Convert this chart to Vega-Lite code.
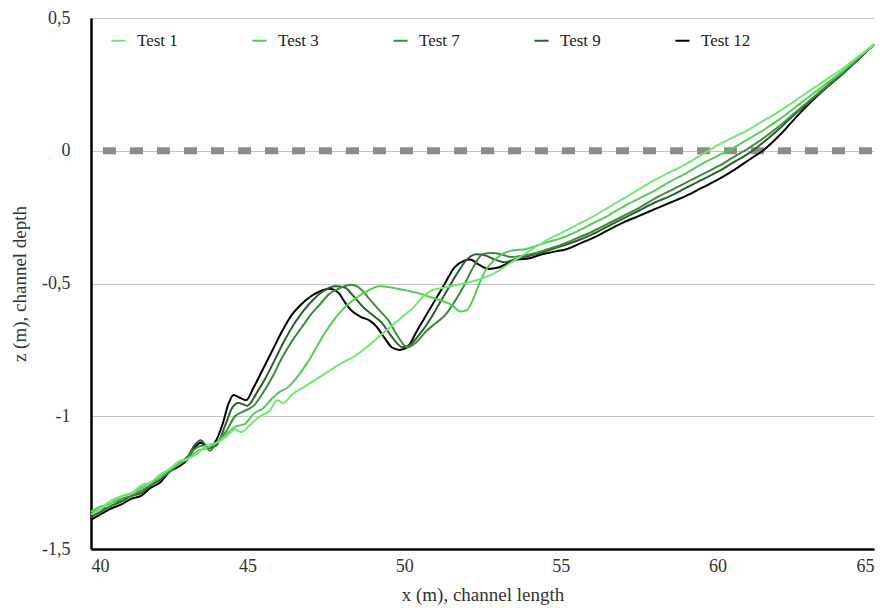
{
  "$schema": "https://vega.github.io/schema/vega-lite/v6.json",
  "autosize": "none",
  "width": 783,
  "height": 531,
  "padding": {"left": 91, "top": 18, "right": 9, "bottom": 59},
  "background": "white",
  "config": {
    "view": {"stroke": null},
    "font": "Liberation Serif",
    "axis": {"labelFont": "Liberation Serif", "titleFont": "Liberation Serif", "labelColor": "#333333", "titleColor": "#333333", "titleFontWeight": "normal", "labelFontSize": 18, "titleFontSize": 19}
  },
  "datasets": {
    "profiles": [
      {"test":"Test 12","x":40.0,"z":-1.39},{"test":"Test 12","x":40.3,"z":-1.37},{"test":"Test 12","x":40.6,"z":-1.35},{"test":"Test 12","x":41.0,"z":-1.33},{"test":"Test 12","x":41.3,"z":-1.31},{"test":"Test 12","x":41.6,"z":-1.30},{"test":"Test 12","x":41.9,"z":-1.27},{"test":"Test 12","x":42.2,"z":-1.25},{"test":"Test 12","x":42.5,"z":-1.21},{"test":"Test 12","x":42.8,"z":-1.19},{"test":"Test 12","x":43.1,"z":-1.16},{"test":"Test 12","x":43.3,"z":-1.12},{"test":"Test 12","x":43.5,"z":-1.10},{"test":"Test 12","x":43.75,"z":-1.12},{"test":"Test 12","x":44.0,"z":-1.09},{"test":"Test 12","x":44.2,"z":-1.03},{"test":"Test 12","x":44.4,"z":-0.95},{"test":"Test 12","x":44.55,"z":-0.92},{"test":"Test 12","x":44.75,"z":-0.93},{"test":"Test 12","x":44.95,"z":-0.94},{"test":"Test 12","x":45.2,"z":-0.89},{"test":"Test 12","x":45.5,"z":-0.82},{"test":"Test 12","x":45.8,"z":-0.75},{"test":"Test 12","x":46.1,"z":-0.68},{"test":"Test 12","x":46.4,"z":-0.62},{"test":"Test 12","x":46.7,"z":-0.58},{"test":"Test 12","x":47.0,"z":-0.55},{"test":"Test 12","x":47.3,"z":-0.53},{"test":"Test 12","x":47.6,"z":-0.52},{"test":"Test 12","x":47.9,"z":-0.535},{"test":"Test 12","x":48.1,"z":-0.57},{"test":"Test 12","x":48.3,"z":-0.60},{"test":"Test 12","x":48.6,"z":-0.625},{"test":"Test 12","x":48.9,"z":-0.64},{"test":"Test 12","x":49.1,"z":-0.66},{"test":"Test 12","x":49.4,"z":-0.71},{"test":"Test 12","x":49.6,"z":-0.74},{"test":"Test 12","x":49.85,"z":-0.75},{"test":"Test 12","x":50.1,"z":-0.74},{"test":"Test 12","x":50.4,"z":-0.68},{"test":"Test 12","x":50.7,"z":-0.62},{"test":"Test 12","x":51.0,"z":-0.56},{"test":"Test 12","x":51.3,"z":-0.50},{"test":"Test 12","x":51.6,"z":-0.44},{"test":"Test 12","x":51.9,"z":-0.415},{"test":"Test 12","x":52.1,"z":-0.41},{"test":"Test 12","x":52.4,"z":-0.43},{"test":"Test 12","x":52.7,"z":-0.445},{"test":"Test 12","x":53.0,"z":-0.44},{"test":"Test 12","x":53.3,"z":-0.425},{"test":"Test 12","x":53.6,"z":-0.41},{"test":"Test 12","x":54.0,"z":-0.405},{"test":"Test 12","x":54.4,"z":-0.39},{"test":"Test 12","x":54.8,"z":-0.38},{"test":"Test 12","x":55.2,"z":-0.37},{"test":"Test 12","x":55.6,"z":-0.35},{"test":"Test 12","x":56.0,"z":-0.33},{"test":"Test 12","x":56.5,"z":-0.30},{"test":"Test 12","x":57.0,"z":-0.27},{"test":"Test 12","x":57.5,"z":-0.245},{"test":"Test 12","x":58.0,"z":-0.22},{"test":"Test 12","x":58.5,"z":-0.195},{"test":"Test 12","x":59.0,"z":-0.17},{"test":"Test 12","x":59.5,"z":-0.14},{"test":"Test 12","x":60.0,"z":-0.11},{"test":"Test 12","x":60.5,"z":-0.075},{"test":"Test 12","x":61.0,"z":-0.035},{"test":"Test 12","x":61.5,"z":0.005},{"test":"Test 12","x":62.0,"z":0.06},{"test":"Test 12","x":62.5,"z":0.125},{"test":"Test 12","x":63.0,"z":0.185},{"test":"Test 12","x":63.5,"z":0.24},{"test":"Test 12","x":64.0,"z":0.29},{"test":"Test 12","x":64.5,"z":0.345},{"test":"Test 12","x":65.0,"z":0.40},

      {"test":"Test 9","x":40.0,"z":-1.38},{"test":"Test 9","x":40.3,"z":-1.36},{"test":"Test 9","x":40.6,"z":-1.34},{"test":"Test 9","x":41.0,"z":-1.32},{"test":"Test 9","x":41.3,"z":-1.30},{"test":"Test 9","x":41.6,"z":-1.29},{"test":"Test 9","x":41.9,"z":-1.26},{"test":"Test 9","x":42.2,"z":-1.24},{"test":"Test 9","x":42.5,"z":-1.21},{"test":"Test 9","x":42.8,"z":-1.18},{"test":"Test 9","x":43.1,"z":-1.15},{"test":"Test 9","x":43.3,"z":-1.11},{"test":"Test 9","x":43.5,"z":-1.09},{"test":"Test 9","x":43.75,"z":-1.12},{"test":"Test 9","x":44.0,"z":-1.11},{"test":"Test 9","x":44.3,"z":-1.03},{"test":"Test 9","x":44.5,"z":-0.97},{"test":"Test 9","x":44.7,"z":-0.95},{"test":"Test 9","x":45.0,"z":-0.96},{"test":"Test 9","x":45.3,"z":-0.91},{"test":"Test 9","x":45.6,"z":-0.85},{"test":"Test 9","x":45.9,"z":-0.78},{"test":"Test 9","x":46.2,"z":-0.71},{"test":"Test 9","x":46.5,"z":-0.65},{"test":"Test 9","x":46.8,"z":-0.60},{"test":"Test 9","x":47.1,"z":-0.56},{"test":"Test 9","x":47.4,"z":-0.53},{"test":"Test 9","x":47.8,"z":-0.51},{"test":"Test 9","x":48.1,"z":-0.515},{"test":"Test 9","x":48.4,"z":-0.55},{"test":"Test 9","x":48.7,"z":-0.59},{"test":"Test 9","x":49.0,"z":-0.62},{"test":"Test 9","x":49.3,"z":-0.65},{"test":"Test 9","x":49.6,"z":-0.70},{"test":"Test 9","x":49.95,"z":-0.74},{"test":"Test 9","x":50.2,"z":-0.73},{"test":"Test 9","x":50.5,"z":-0.69},{"test":"Test 9","x":50.8,"z":-0.64},{"test":"Test 9","x":51.1,"z":-0.58},{"test":"Test 9","x":51.4,"z":-0.52},{"test":"Test 9","x":51.7,"z":-0.46},{"test":"Test 9","x":52.0,"z":-0.41},{"test":"Test 9","x":52.3,"z":-0.39},{"test":"Test 9","x":52.6,"z":-0.395},{"test":"Test 9","x":52.9,"z":-0.41},{"test":"Test 9","x":53.2,"z":-0.42},{"test":"Test 9","x":53.5,"z":-0.41},{"test":"Test 9","x":53.8,"z":-0.40},{"test":"Test 9","x":54.2,"z":-0.39},{"test":"Test 9","x":54.6,"z":-0.375},{"test":"Test 9","x":55.0,"z":-0.36},{"test":"Test 9","x":55.5,"z":-0.34},{"test":"Test 9","x":56.0,"z":-0.315},{"test":"Test 9","x":56.5,"z":-0.285},{"test":"Test 9","x":57.0,"z":-0.255},{"test":"Test 9","x":57.5,"z":-0.225},{"test":"Test 9","x":58.0,"z":-0.195},{"test":"Test 9","x":58.5,"z":-0.17},{"test":"Test 9","x":59.0,"z":-0.14},{"test":"Test 9","x":59.5,"z":-0.11},{"test":"Test 9","x":60.0,"z":-0.08},{"test":"Test 9","x":60.5,"z":-0.045},{"test":"Test 9","x":61.0,"z":-0.01},{"test":"Test 9","x":61.5,"z":0.035},{"test":"Test 9","x":62.0,"z":0.085},{"test":"Test 9","x":62.5,"z":0.14},{"test":"Test 9","x":63.0,"z":0.19},{"test":"Test 9","x":63.5,"z":0.24},{"test":"Test 9","x":64.0,"z":0.29},{"test":"Test 9","x":64.5,"z":0.345},{"test":"Test 9","x":65.0,"z":0.40},

      {"test":"Test 7","x":40.0,"z":-1.37},{"test":"Test 7","x":40.3,"z":-1.35},{"test":"Test 7","x":40.6,"z":-1.34},{"test":"Test 7","x":41.0,"z":-1.31},{"test":"Test 7","x":41.3,"z":-1.30},{"test":"Test 7","x":41.6,"z":-1.28},{"test":"Test 7","x":41.9,"z":-1.26},{"test":"Test 7","x":42.2,"z":-1.23},{"test":"Test 7","x":42.5,"z":-1.21},{"test":"Test 7","x":42.8,"z":-1.18},{"test":"Test 7","x":43.1,"z":-1.15},{"test":"Test 7","x":43.35,"z":-1.12},{"test":"Test 7","x":43.6,"z":-1.11},{"test":"Test 7","x":43.8,"z":-1.13},{"test":"Test 7","x":44.0,"z":-1.10},{"test":"Test 7","x":44.3,"z":-1.06},{"test":"Test 7","x":44.6,"z":-1.00},{"test":"Test 7","x":44.9,"z":-0.98},{"test":"Test 7","x":45.2,"z":-0.96},{"test":"Test 7","x":45.5,"z":-0.91},{"test":"Test 7","x":45.8,"z":-0.85},{"test":"Test 7","x":46.1,"z":-0.78},{"test":"Test 7","x":46.4,"z":-0.72},{"test":"Test 7","x":46.7,"z":-0.67},{"test":"Test 7","x":47.0,"z":-0.62},{"test":"Test 7","x":47.3,"z":-0.58},{"test":"Test 7","x":47.6,"z":-0.54},{"test":"Test 7","x":47.9,"z":-0.52},{"test":"Test 7","x":48.3,"z":-0.505},{"test":"Test 7","x":48.6,"z":-0.52},{"test":"Test 7","x":48.9,"z":-0.56},{"test":"Test 7","x":49.2,"z":-0.60},{"test":"Test 7","x":49.5,"z":-0.64},{"test":"Test 7","x":49.8,"z":-0.70},{"test":"Test 7","x":50.1,"z":-0.74},{"test":"Test 7","x":50.4,"z":-0.72},{"test":"Test 7","x":50.7,"z":-0.68},{"test":"Test 7","x":51.0,"z":-0.65},{"test":"Test 7","x":51.3,"z":-0.62},{"test":"Test 7","x":51.6,"z":-0.57},{"test":"Test 7","x":51.9,"z":-0.51},{"test":"Test 7","x":52.2,"z":-0.44},{"test":"Test 7","x":52.5,"z":-0.39},{"test":"Test 7","x":52.8,"z":-0.385},{"test":"Test 7","x":53.1,"z":-0.39},{"test":"Test 7","x":53.4,"z":-0.40},{"test":"Test 7","x":53.8,"z":-0.395},{"test":"Test 7","x":54.2,"z":-0.385},{"test":"Test 7","x":54.6,"z":-0.37},{"test":"Test 7","x":55.0,"z":-0.355},{"test":"Test 7","x":55.5,"z":-0.33},{"test":"Test 7","x":56.0,"z":-0.305},{"test":"Test 7","x":56.5,"z":-0.275},{"test":"Test 7","x":57.0,"z":-0.245},{"test":"Test 7","x":57.5,"z":-0.215},{"test":"Test 7","x":58.0,"z":-0.18},{"test":"Test 7","x":58.5,"z":-0.15},{"test":"Test 7","x":59.0,"z":-0.12},{"test":"Test 7","x":59.5,"z":-0.09},{"test":"Test 7","x":60.0,"z":-0.06},{"test":"Test 7","x":60.5,"z":-0.025},{"test":"Test 7","x":61.0,"z":0.01},{"test":"Test 7","x":61.5,"z":0.05},{"test":"Test 7","x":62.0,"z":0.095},{"test":"Test 7","x":62.5,"z":0.145},{"test":"Test 7","x":63.0,"z":0.195},{"test":"Test 7","x":63.5,"z":0.245},{"test":"Test 7","x":64.0,"z":0.295},{"test":"Test 7","x":64.5,"z":0.35},{"test":"Test 7","x":65.0,"z":0.40},

      {"test":"Test 3","x":40.0,"z":-1.36},{"test":"Test 3","x":40.3,"z":-1.34},{"test":"Test 3","x":40.6,"z":-1.33},{"test":"Test 3","x":41.0,"z":-1.30},{"test":"Test 3","x":41.3,"z":-1.29},{"test":"Test 3","x":41.6,"z":-1.27},{"test":"Test 3","x":41.9,"z":-1.25},{"test":"Test 3","x":42.2,"z":-1.23},{"test":"Test 3","x":42.5,"z":-1.20},{"test":"Test 3","x":42.8,"z":-1.18},{"test":"Test 3","x":43.1,"z":-1.16},{"test":"Test 3","x":43.4,"z":-1.13},{"test":"Test 3","x":43.7,"z":-1.12},{"test":"Test 3","x":44.0,"z":-1.10},{"test":"Test 3","x":44.3,"z":-1.07},{"test":"Test 3","x":44.6,"z":-1.04},{"test":"Test 3","x":44.9,"z":-1.03},{"test":"Test 3","x":45.2,"z":-0.99},{"test":"Test 3","x":45.5,"z":-0.97},{"test":"Test 3","x":45.8,"z":-0.93},{"test":"Test 3","x":46.0,"z":-0.91},{"test":"Test 3","x":46.3,"z":-0.89},{"test":"Test 3","x":46.6,"z":-0.85},{"test":"Test 3","x":46.9,"z":-0.80},{"test":"Test 3","x":47.2,"z":-0.74},{"test":"Test 3","x":47.5,"z":-0.68},{"test":"Test 3","x":47.8,"z":-0.63},{"test":"Test 3","x":48.1,"z":-0.59},{"test":"Test 3","x":48.4,"z":-0.56},{"test":"Test 3","x":48.8,"z":-0.53},{"test":"Test 3","x":49.2,"z":-0.51},{"test":"Test 3","x":49.6,"z":-0.515},{"test":"Test 3","x":50.0,"z":-0.525},{"test":"Test 3","x":50.4,"z":-0.535},{"test":"Test 3","x":50.8,"z":-0.55},{"test":"Test 3","x":51.2,"z":-0.565},{"test":"Test 3","x":51.5,"z":-0.58},{"test":"Test 3","x":51.8,"z":-0.605},{"test":"Test 3","x":52.0,"z":-0.60},{"test":"Test 3","x":52.2,"z":-0.56},{"test":"Test 3","x":52.4,"z":-0.50},{"test":"Test 3","x":52.6,"z":-0.45},{"test":"Test 3","x":52.9,"z":-0.41},{"test":"Test 3","x":53.2,"z":-0.385},{"test":"Test 3","x":53.5,"z":-0.375},{"test":"Test 3","x":53.9,"z":-0.37},{"test":"Test 3","x":54.3,"z":-0.355},{"test":"Test 3","x":54.7,"z":-0.34},{"test":"Test 3","x":55.0,"z":-0.33},{"test":"Test 3","x":55.5,"z":-0.305},{"test":"Test 3","x":56.0,"z":-0.275},{"test":"Test 3","x":56.5,"z":-0.245},{"test":"Test 3","x":57.0,"z":-0.21},{"test":"Test 3","x":57.5,"z":-0.18},{"test":"Test 3","x":58.0,"z":-0.15},{"test":"Test 3","x":58.5,"z":-0.115},{"test":"Test 3","x":59.0,"z":-0.085},{"test":"Test 3","x":59.5,"z":-0.05},{"test":"Test 3","x":60.0,"z":-0.02},{"test":"Test 3","x":60.5,"z":0.01},{"test":"Test 3","x":61.0,"z":0.045},{"test":"Test 3","x":61.5,"z":0.08},{"test":"Test 3","x":62.0,"z":0.12},{"test":"Test 3","x":62.5,"z":0.165},{"test":"Test 3","x":63.0,"z":0.21},{"test":"Test 3","x":63.5,"z":0.255},{"test":"Test 3","x":64.0,"z":0.30},{"test":"Test 3","x":64.5,"z":0.35},{"test":"Test 3","x":65.0,"z":0.40},

      {"test":"Test 1","x":40.0,"z":-1.37},{"test":"Test 1","x":40.3,"z":-1.35},{"test":"Test 1","x":40.6,"z":-1.32},{"test":"Test 1","x":41.0,"z":-1.30},{"test":"Test 1","x":41.3,"z":-1.29},{"test":"Test 1","x":41.6,"z":-1.26},{"test":"Test 1","x":41.9,"z":-1.25},{"test":"Test 1","x":42.2,"z":-1.22},{"test":"Test 1","x":42.5,"z":-1.20},{"test":"Test 1","x":42.8,"z":-1.17},{"test":"Test 1","x":43.1,"z":-1.16},{"test":"Test 1","x":43.4,"z":-1.14},{"test":"Test 1","x":43.7,"z":-1.11},{"test":"Test 1","x":44.0,"z":-1.10},{"test":"Test 1","x":44.3,"z":-1.08},{"test":"Test 1","x":44.6,"z":-1.05},{"test":"Test 1","x":44.8,"z":-1.06},{"test":"Test 1","x":45.1,"z":-1.03},{"test":"Test 1","x":45.4,"z":-1.00},{"test":"Test 1","x":45.7,"z":-0.98},{"test":"Test 1","x":45.95,"z":-0.94},{"test":"Test 1","x":46.15,"z":-0.95},{"test":"Test 1","x":46.4,"z":-0.92},{"test":"Test 1","x":46.8,"z":-0.89},{"test":"Test 1","x":47.2,"z":-0.86},{"test":"Test 1","x":47.6,"z":-0.83},{"test":"Test 1","x":48.0,"z":-0.80},{"test":"Test 1","x":48.4,"z":-0.775},{"test":"Test 1","x":48.8,"z":-0.74},{"test":"Test 1","x":49.2,"z":-0.70},{"test":"Test 1","x":49.6,"z":-0.66},{"test":"Test 1","x":50.0,"z":-0.62},{"test":"Test 1","x":50.3,"z":-0.59},{"test":"Test 1","x":50.6,"z":-0.55},{"test":"Test 1","x":50.9,"z":-0.525},{"test":"Test 1","x":51.3,"z":-0.515},{"test":"Test 1","x":51.7,"z":-0.505},{"test":"Test 1","x":52.1,"z":-0.495},{"test":"Test 1","x":52.5,"z":-0.48},{"test":"Test 1","x":52.9,"z":-0.46},{"test":"Test 1","x":53.3,"z":-0.43},{"test":"Test 1","x":53.7,"z":-0.40},{"test":"Test 1","x":54.1,"z":-0.37},{"test":"Test 1","x":54.5,"z":-0.34},{"test":"Test 1","x":55.0,"z":-0.31},{"test":"Test 1","x":55.5,"z":-0.28},{"test":"Test 1","x":56.0,"z":-0.25},{"test":"Test 1","x":56.5,"z":-0.215},{"test":"Test 1","x":57.0,"z":-0.18},{"test":"Test 1","x":57.5,"z":-0.145},{"test":"Test 1","x":58.0,"z":-0.11},{"test":"Test 1","x":58.5,"z":-0.08},{"test":"Test 1","x":59.0,"z":-0.05},{"test":"Test 1","x":59.5,"z":-0.015},{"test":"Test 1","x":60.0,"z":0.02},{"test":"Test 1","x":60.5,"z":0.05},{"test":"Test 1","x":61.0,"z":0.08},{"test":"Test 1","x":61.5,"z":0.115},{"test":"Test 1","x":62.0,"z":0.15},{"test":"Test 1","x":62.5,"z":0.19},{"test":"Test 1","x":63.0,"z":0.23},{"test":"Test 1","x":63.5,"z":0.27},{"test":"Test 1","x":64.0,"z":0.31},{"test":"Test 1","x":64.5,"z":0.355},{"test":"Test 1","x":65.0,"z":0.40}
    ],
    "water": [{"level": 0}]
  },
  "layer": [
    {
      "data": {"name": "water"},
      "mark": {"type": "rule", "color": "#8c8c8c", "strokeWidth": 7, "strokeDash": [13, 14], "strokeDashOffset": -2},
      "encoding": {"y": {"field": "level", "type": "quantitative", "scale": {"domain": [-1.5, 0.5]}}}
    },
    {
      "data": {"name": "profiles"},
      "mark": {"type": "line", "strokeWidth": 2, "interpolate": "monotone"},
      "encoding": {
        "x": {"field": "x", "type": "quantitative", "scale": {"domain": [40, 65], "nice": false},
          "axis": {"title": "x (m), channel length", "values": [40, 45, 50, 55, 60, 65], "grid": false, "ticks": false, "domainColor": "#000000", "domainWidth": 2.5, "labelPadding": 8, "titlePadding": 10}},
        "y": {"field": "z", "type": "quantitative", "scale": {"domain": [-1.5, 0.5], "nice": false},
          "axis": {"title": "z (m), channel depth", "values": [-1.5, -1, -0.5, 0, 0.5], "grid": true, "gridColor": "#c4c4c4", "gridWidth": 1.2, "ticks": false, "domainColor": "#000000", "domainWidth": 2.5, "labelPadding": 21, "titlePadding": 12,
            "labelExpr": "replace(toString(datum.value), '.', ',')"}},
        "color": {"field": "test", "type": "nominal",
          "scale": {"domain": ["Test 1", "Test 3", "Test 7", "Test 9", "Test 12"], "range": ["#70e870", "#55cc55", "#3d8b3d", "#2b602b", "#000000"]},
          "legend": {"title": null, "orient": "none", "legendX": 19, "legendY": 14, "direction": "horizontal", "columns": 5, "gridAlign": "all", "columnPadding": 61, "symbolType": "stroke", "symbolSize": 200, "symbolStrokeWidth": 2, "labelFont": "Liberation Serif", "labelFontSize": 17, "labelColor": "#222222", "labelOffset": 10}},
        "strokeWidth": {"field": "test", "type": "nominal", "scale": {"domain": ["Test 1", "Test 3", "Test 7", "Test 9", "Test 12"], "range": [2, 2, 2, 2, 2.6]}, "legend": null},
        "order": {"field": "x", "type": "quantitative"}
      }
    }
  ]
}
